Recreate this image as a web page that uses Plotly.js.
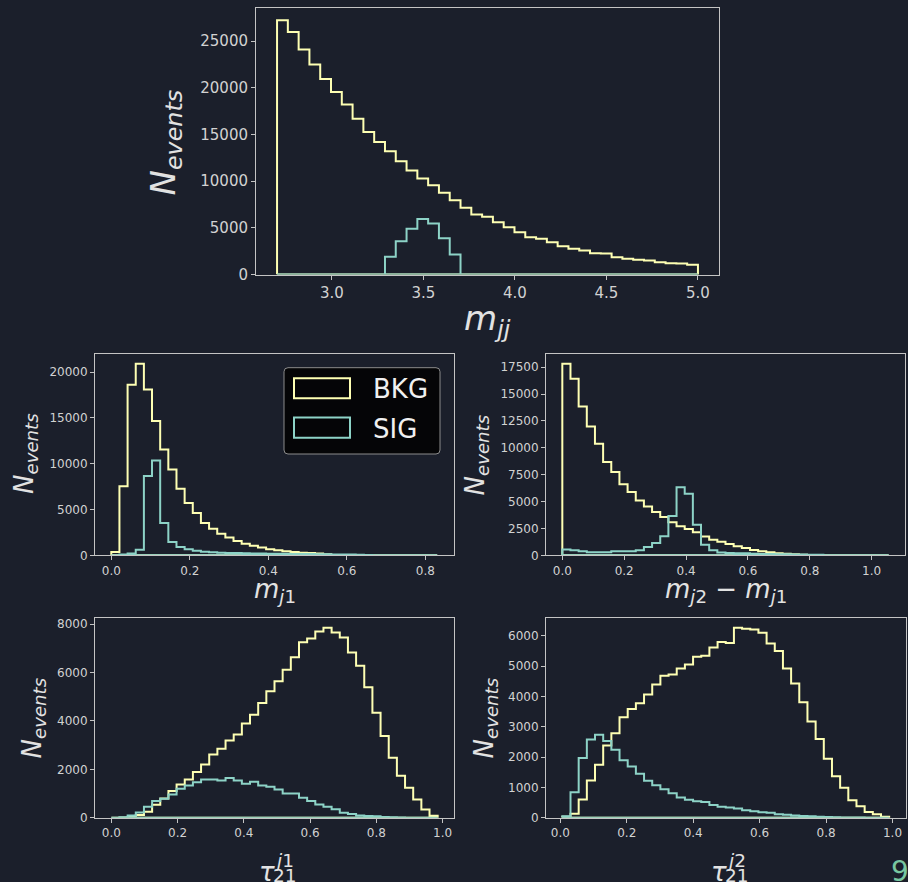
<!DOCTYPE html>
<html><head><meta charset="utf-8">
<script src="https://cdn.plot.ly/plotly-3.0.1.min.js"></script>
<style>html,body{margin:0;padding:0;background:#1b1f2b;}#chart{width:908px;height:882px;}</style>
</head><body><div id="chart"></div>
<script>
// ---------------- data ----------------
const seriesNames = ['BKG', 'SIG'];
const seriesColors = ['#feffb3', '#8dd3c7'];

// m_jj : 39 bins between 2.7 and 5.0
const mjjRange = [2.7, 5.0];
const mjjBkg = [27250, 26000, 24100, 22500, 20960, 19570, 18210, 16680, 15280, 14210,
                13210, 12140, 11140, 10280, 9570, 8750, 7960, 7140, 6430, 6180,
                5610, 5070, 4535, 4000, 3820, 3460, 3035, 2750, 2570, 2290,
                2260, 1860, 1680, 1570, 1500, 1320, 1210, 1180, 1035];
const mjjSig = [0, 0, 0, 0, 0, 0, 0, 0, 0, 0,
                1890, 3570, 4890, 5960, 5460, 3890, 2140, 0, 0, 0,
                0, 0, 0, 0, 0, 0, 0, 0, 0, 0,
                0, 0, 0, 0, 0, 0, 0, 0, 0];

// m_j1 : 40 bins between 0 and 0.83
const mj1Range = [0.0, 0.83];
const mj1Bkg = [360, 7530, 18620, 20900, 18100, 14650, 11560, 9380, 7270, 5710,
                4620, 3530, 2910, 2360, 1930, 1560, 1270, 1050, 840, 650,
                545, 440, 360, 290, 240, 190, 120, 40, 20, 10,
                5, 0, 0, 0, 0, 0, 0, 0, 0, 0];
const mj1Sig = [0, 100, 200, 600, 8650, 10360, 3530, 1450, 910, 650,
                510, 400, 330, 290, 260, 240, 220, 200, 190, 180,
                170, 160, 150, 140, 130, 120, 110, 100, 90, 80,
                60, 40, 0, 0, 0, 0, 0, 0, 0, 0];

// m_j2 - m_j1 : 40 bins between 0 and 1.055
const dmRange = [0.0, 1.055];
const dmBkg = [17810, 16420, 13850, 11990, 10380, 8670, 7745, 6600, 5890, 5110,
               4550, 4030, 3560, 3070, 2700, 2450, 2150, 1750, 1450, 1250,
               1050, 850, 680, 500, 380, 280, 200, 140, 90, 50,
               25, 10, 5, 0, 0, 0, 0, 0, 0, 0];
const dmSig = [530, 465, 370, 280, 280, 280, 370, 370, 370, 465,
               775, 1150, 1770, 3660, 6320, 5730, 2850, 990, 465, 250,
               215, 200, 180, 150, 130, 120, 100, 90, 80, 70,
               60, 40, 0, 0, 0, 0, 0, 0, 0, 0];

// tau21 j1 : 40 bins between 0 and 0.985
const tau1Range = [0.0, 0.985];
const tau1Bkg = [0, 5, 30, 110, 250, 540, 790, 1100, 1375, 1580,
                 1885, 2200, 2610, 2850, 3190, 3440, 3890, 4260, 4740, 5225,
                 5640, 6120, 6630, 7250, 7410, 7700, 7850, 7660, 7450, 6830,
                 6280, 5390, 4335, 3375, 2480, 1730, 1235, 755, 340, 80];
const tau1Sig = [0, 20, 96, 210, 450, 690, 780, 960, 1200, 1330,
                 1470, 1580, 1580, 1540, 1640, 1540, 1400, 1485, 1330, 1280,
                 1170, 1000, 1000, 825, 690, 550, 450, 345, 206, 150,
                 96, 70, 55, 30, 15, 8, 3, 0, 0, 0];

// tau21 j2 : 40 bins between 0.006 and 0.99
const tau2Range = [0.006, 0.99];
const tau2Bkg = [30, 130, 600, 1230, 1750, 2380, 2790, 3320, 3590, 3780,
                 4070, 4400, 4690, 4730, 4930, 5060, 5310, 5350, 5620, 5800,
                 5770, 6270, 6240, 6210, 6110, 5750, 5500, 4930, 4430, 3810,
                 3180, 2600, 1950, 1370, 985, 580, 380, 185, 110, 30];
const tau2Sig = [50, 840, 1970, 2580, 2740, 2530, 2240, 1900, 1690, 1450,
                 1220, 1070, 940, 810, 670, 590, 540, 520, 420, 360,
                 340, 300, 250, 210, 180, 160, 110, 100, 70, 55,
                 45, 35, 25, 15, 10, 5, 3, 2, 1, 0];

const pageNumber = '9';

// ---------------- helpers ----------------
const W = 908, H = 882;
const px = v => v / W;
const py = v => 1 - v / H;

function stepXY(range, counts) {
  const n = counts.length, w = (range[1] - range[0]) / n;
  const e = i => range[0] + i * w;
  const x = [e(0)], y = [0];
  for (let i = 0; i < n; i++) { x.push(e(i)); y.push(counts[i]); }
  x.push(e(n)); y.push(0);
  x.push(e(0)); y.push(0);
  return {x, y};
}

const panels = [
  {range: mjjRange, bkg: mjjBkg, sig: mjjSig, dom: [256, 719, 7.5, 274.5], tick0: 3.0, dtick: 0.5, ydtick: 5000, fs: 15},
  {range: mj1Range, bkg: mj1Bkg, sig: mj1Sig, dom: [95, 453.5, 354.3, 555.3], tick0: 0, dtick: 0.2, ydtick: 5000, fs: 12},
  {range: dmRange, bkg: dmBkg, sig: dmSig, dom: [546, 905, 354.3, 555.3], tick0: 0, dtick: 0.2, ydtick: 2500, fs: 12},
  {range: tau1Range, bkg: tau1Bkg, sig: tau1Sig, dom: [95, 454, 618.3, 817.7], tick0: 0, dtick: 0.2, ydtick: 2000, fs: 12},
  {range: tau2Range, bkg: tau2Bkg, sig: tau2Sig, dom: [546, 905.5, 618.3, 817.7], tick0: 0, dtick: 0.2, ydtick: 1000, fs: 12}
];

const lineCol = '#c4c4c4', tickTxt = '#d2d2d2', labelCol = '#e2e2e2';
const FONT = 'DejaVu Sans';

const traces = [];
const layout = {
  width: W, height: H,
  margin: {l: 0, r: 0, t: 0, b: 0},
  paper_bgcolor: '#1b1f2b', plot_bgcolor: '#1b1f2b',
  showlegend: false,
  font: {family: FONT, color: tickTxt},
  annotations: [], shapes: []
};

panels.forEach((p, i) => {
  const k = i === 0 ? '' : String(i + 1);
  [p.bkg, p.sig].forEach((c, j) => {
    const s = stepXY(p.range, c);
    traces.push({type: 'scatter', mode: 'lines', x: s.x, y: s.y, name: seriesNames[j],
      line: {shape: 'hv', color: seriesColors[j], width: 2},
      xaxis: 'x' + k, yaxis: 'y' + k, hoverinfo: 'skip'});
  });
  const span = p.range[1] - p.range[0];
  const ymax = Math.max(...p.bkg, ...p.sig) * 1.05;
  const common = {showline: true, mirror: true, linecolor: lineCol, linewidth: 1,
    ticks: 'outside', ticklen: 4, tickwidth: 1, tickcolor: lineCol,
    tickfont: {family: FONT, size: p.fs, color: tickTxt},
    showgrid: false, zeroline: false, fixedrange: true};
  layout['xaxis' + k] = Object.assign({}, common, {
    domain: [px(p.dom[0]), px(p.dom[1])], anchor: 'y' + k,
    range: [p.range[0] - 0.05 * span, p.range[1] + 0.05 * span],
    tick0: p.tick0, dtick: p.dtick, tickformat: '.1f'});
  layout['yaxis' + k] = Object.assign({}, common, {
    domain: [py(p.dom[3]), py(p.dom[2])], anchor: 'x' + k,
    range: [0, ymax], tick0: 0, dtick: p.ydtick, tickformat: 'd'});
});

function ann(text, x, y, size, opts) {
  layout.annotations.push(Object.assign({text, x: px(x), y: py(y), xref: 'paper', yref: 'paper',
    showarrow: false, xanchor: 'center', yanchor: 'middle',
    font: {family: FONT, size, color: labelCol}}, opts || {}));
}
const NEV = '<i>N</i><sub><i>events</i></sub>';
// y titles
ann(NEV, 165, 142.5, 34, {textangle: -90});
ann(NEV, 25, 454, 26, {textangle: -90});
ann(NEV, 475.5, 455, 26, {textangle: -90});
ann(NEV, 32.5, 718, 26, {textangle: -90});
ann(NEV, 484.5, 718, 26, {textangle: -90});
// x titles
ann('<i>m</i><sub><i>jj</i></sub>', 487, 320, 34);
ann('<i>m</i><sub><i>j</i>1</sub>', 274.5, 590, 26);
ann('<i>m</i><sub><i>j</i>2</sub> − <i>m</i><sub><i>j</i>1</sub>', 726, 590, 26);
[[257, 'j1'], [709, 'j2']].forEach(([x0, sup]) => {
  ann('<i>τ</i>', x0, 872, 26, {xanchor: 'left'});
  ann('<i>j</i>' + sup.slice(1), x0 + 15, 860, 18.5, {xanchor: 'left'});
  ann('21', x0 + 14, 875, 18.5, {xanchor: 'left'});
});
// page number
ann(pageNumber, 889, 871, 28, {xanchor: 'left', font: {family: FONT, size: 28, color: '#78c6a0'}});

// legend (drawn in the m_j1 panel)
const L = {x0: 284, x1: 440, y0: 367.7, y1: 454, r: 4};
const rx = L.r / W, ry = L.r / H;
const X0 = px(L.x0), X1 = px(L.x1), Y0 = py(L.y0), Y1 = py(L.y1);
layout.shapes.push({type: 'path', xref: 'paper', yref: 'paper',
  path: `M ${X0 + rx} ${Y0} L ${X1 - rx} ${Y0} Q ${X1} ${Y0} ${X1} ${Y0 - ry} L ${X1} ${Y1 + ry} Q ${X1} ${Y1} ${X1 - rx} ${Y1} L ${X0 + rx} ${Y1} Q ${X0} ${Y1} ${X0} ${Y1 + ry} L ${X0} ${Y0 - ry} Q ${X0} ${Y0} ${X0 + rx} ${Y0} Z`,
  fillcolor: 'rgba(4,4,5,0.95)', line: {color: '#8c8c8c', width: 1}});
[[378.3, 398.3, 389, 0], [417.5, 437.7, 428.7, 1]].forEach(([a, b, c, j]) => {
  layout.shapes.push({type: 'rect', xref: 'paper', yref: 'paper',
    x0: px(294), x1: px(350), y0: py(b), y1: py(a),
    line: {color: seriesColors[j], width: 2}, fillcolor: 'rgba(0,0,0,0)'});
  ann(seriesNames[j], 371, c, 26, {xanchor: 'left', font: {family: FONT, size: 26, color: '#f0f0f0'}});
});

Plotly.newPlot('chart', traces, layout, {displayModeBar: false, staticPlot: true});
</script>
</body></html>
